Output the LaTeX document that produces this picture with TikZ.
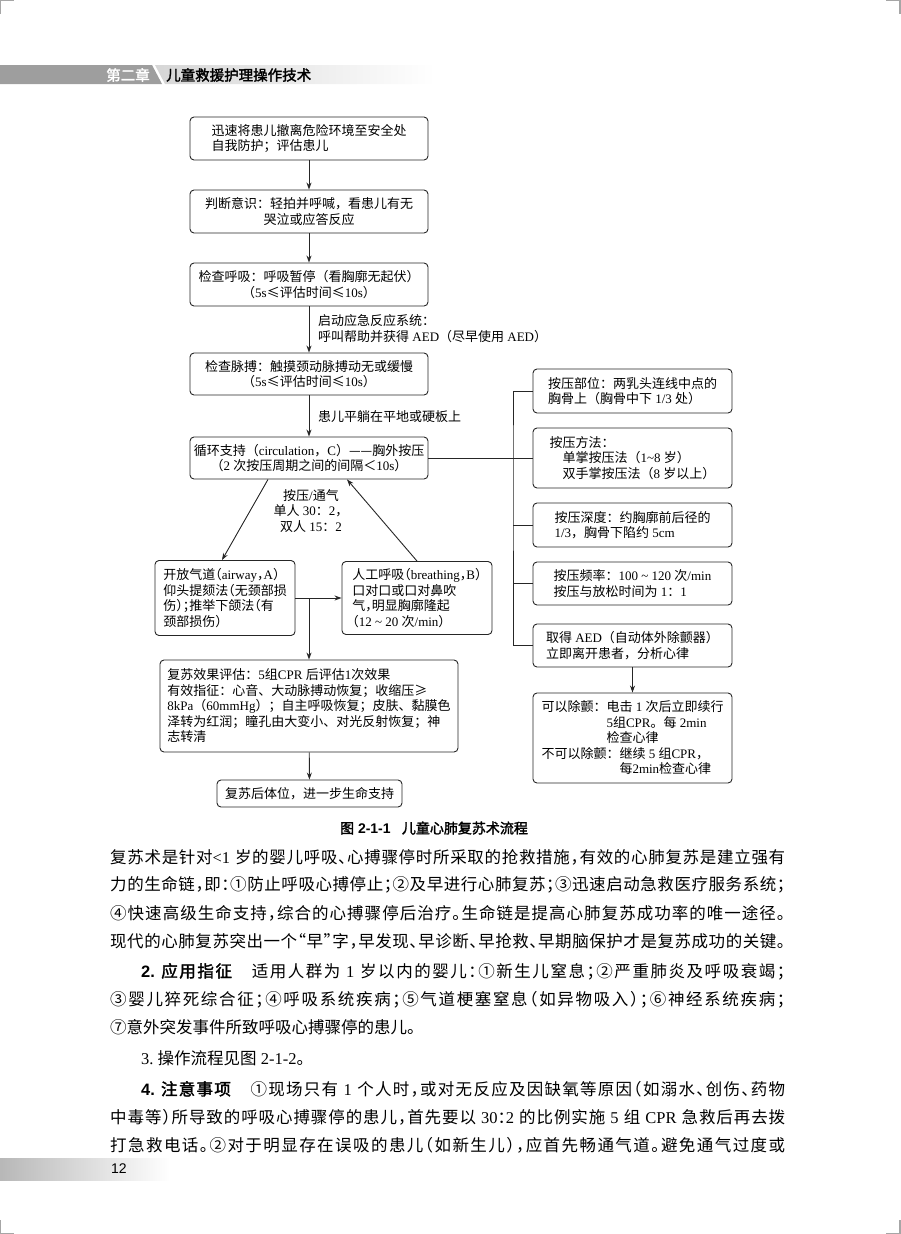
\documentclass[tikz,border=0pt]{standalone}
\usepackage{fontspec}
\usetikzlibrary{arrows.meta}
\setmainfont{Liberation Serif}
\setsansfont{Liberation Sans}
\newfontfamily\cjkfont{Noto Sans CJK SC}[AutoFakeBold=2]
\newfontfamily\cjkhalt{Noto Sans CJK SC}[AutoFakeBold=2,RawFeature=+halt]
\newcommand\latfont{\rmfamily}

% Chinese characters switch to the CJK font by themselves
\newcount\clscnt
\newcommand\setcls[3]{\clscnt=#1\relax
  \loop\XeTeXcharclass\clscnt=#3\relax
  \ifnum\clscnt<#2\advance\clscnt by 1\relax\repeat}
\setcls{"0021}{"00FF}{0}
\setcls{"2014}{"2014}{7}
\setcls{"201C}{"201D}{7}
\setcls{"2264}{"2265}{7}
\setcls{"2460}{"24FF}{7}
\setcls{"2E80}{"9FFF}{7}
\setcls{"FF00}{"FFEF}{7}
\XeTeXinterchartoks 0 7 = {\cjkfont}
\XeTeXinterchartoks 4095 7 = {\cjkfont}
\XeTeXinterchartoks 7 0 = {\latfont}
\XeTeXinterchartoks 7 4095 = {\latfont}
\XeTeXinterchartoks 7 7 = {\hskip 0pt plus 2pt minus 0.6pt}
\XeTeXinterchartokenstate=1

\begin{document}
\begin{tikzpicture}[x=1pt,y=-1pt,
  every node/.style={font=\fontsize{13}{15.5}\selectfont},
  box/.style={draw=black!85,line width=0.9pt,rounded corners=4pt,inner sep=0pt,align=center},
  leftbox/.style={box,align=left},
  narrowbox/.style={leftbox,font=\fontsize{13}{15.5}\selectfont\let\cjkfont\cjkhalt},
  boxsize/.style 2 args={minimum width=#1pt,minimum height=#2pt},
  note/.style={anchor=west,align=left,inner sep=0pt},
  link/.style={draw=black!85,line width=0.9pt},
  arr/.style={link,-{Stealth[length=7pt,width=5pt]}},
  bodyline/.style={anchor=west,inner sep=0pt,font=\fontsize{16.5}{20}\selectfont\let\cjkfont\cjkhalt},
  crop/.style={draw=black!35,line width=1.2pt}]
  \useasboundingbox (0,0) rectangle (900,1234);

  % Crop marks
  \draw[crop] (0,14) -- (0,0) -- (14,0);
  \draw[crop] (886,0) -- (900,0) -- (900,14);
  \draw[crop] (0,1220) -- (0,1234) -- (14,1234);
  \draw[crop] (886,1234) -- (900,1234) -- (900,1220);

  % Running head
  \fill[black!38] (0,65) -- (152,65) -- (162,84) -- (0,84) -- cycle;
  \shade[left color=black!16,right color=white] (155,65) -- (435,65) -- (435,84) -- (165,84) -- cycle;
  \node[font=\fontsize{14.5}{15}\selectfont\bfseries,text=white,inner sep=0pt] (chap) at (128,75) {第二章};
  \node[font=\fontsize{14.5}{15}\selectfont\bfseries,anchor=west,inner sep=0pt] (title) at (166,75) {儿童救援护理操作技术};

  % Main column
  \node[leftbox,boxsize={238}{43}] (start) at (309,138.5)
    {迅速将患儿撤离危险环境至安全处\\自我防护；评估患儿};
  \node[box,boxsize={238}{43}] (judge) at (309,211.5)
    {判断意识：轻拍并呼喊，看患儿有无\\哭泣或应答反应};
  \node[box,boxsize={238}{43}] (breath) at (309,284.5)
    {检查呼吸：呼吸暂停（看胸廓无起伏）\\（5s≤评估时间≤10s）};
  \node[box,boxsize={238}{42}] (pulse) at (309,374)
    {检查脉搏：触摸颈动脉搏动无或缓慢\\（5s≤评估时间≤10s）};
  \node[box,boxsize={238}{42}] (circ) at (309,458)
    {循环支持（circulation，C）——胸外按压\\（2 次按压周期之间的间隔＜10s）};

  \draw[arr] (start) -- (judge);
  \draw[arr] (judge) -- (breath);
  \draw[arr] (breath) -- (pulse);
  \draw[arr] (pulse) -- (circ);
  \node[note] (call) at (318,328.5) {启动应急反应系统：\\呼叫帮助并获得 AED（尽早使用 AED）};
  \node[note] (lay) at (318,417) {患儿平躺在平地或硬板上};

  % Compression branch on the right
  \node[leftbox,boxsize={199}{44}] (site) at (632.5,391)
    {按压部位：两乳头连线中点的\\胸骨上（胸骨中下 1/3 处）};
  \node[leftbox,boxsize={199}{60}] (method) at (632.5,458)
    {按压方法：\\\hspace*{1em}单掌按压法（1\textasciitilde{}8 岁）\\\hspace*{1em}双手掌按压法（8 岁以上）};
  \node[leftbox,boxsize={199}{44}] (depth) at (632.5,525)
    {按压深度：约胸廓前后径的\\1/3，胸骨下陷约 5cm};
  \node[leftbox,boxsize={199}{43}] (rate) at (632.5,583.5)
    {按压频率：100 \textasciitilde{} 120 次/min\\按压与放松时间为 1：1};
  \node[leftbox,boxsize={199}{43}] (aed) at (632.5,645.5)
    {取得 AED（自动体外除颤器）\\立即离开患者，分析心律};
  \node[leftbox,boxsize={199}{90}] (shock) at (632.5,738)
    {可以除颤：电击 1 次后立即续行\\\phantom{可以除颤：}5组CPR。每 2min\\\phantom{可以除颤：}检查心律\\
     不可以除颤：继续 5 组CPR，\\\phantom{不可以除颤：}每2min检查心律};

  \coordinate (trunk) at (513,458);
  \draw[link] (circ.east) -- (method.west);
  \draw[link] (site.west) -| (trunk) |- (aed.west);
  \foreach \r in {depth,rate}
    \draw[link] (\r.west) -- (\r.west -| trunk);
  \draw[arr] (aed) -- (shock);

  % Airway and breathing cycle
  \node[narrowbox,boxsize={140}{75}] (airway) at (225,598)
    {开放气道（airway，A）\\仰头提颏法（无颈部损\\伤）；推举下颌法（有\\颈部损伤）};
  \node[narrowbox,boxsize={150}{73}] (rescue) at (417,598)
    {人工呼吸（breathing，B）\\口对口或口对鼻吹\\气，明显胸廓隆起\\（12 \textasciitilde{} 20 次/min）};
  \node[align=center,inner sep=0pt] (ratio) at (311,511) {按压/通气\\单人 30：2，\\双人 15：2};
  \draw[arr] ([xshift=-41pt]circ.south) -- ([xshift=-3pt]airway.north);
  \draw[arr] (rescue.north) -- ([xshift=38pt]circ.south);
  \draw[arr] (airway.east) -- (rescue.west);

  % Assessment and aftercare
  \node[leftbox,boxsize={298}{92}] (eval) at (309,706)
    {复苏效果评估：5组CPR 后评估1次效果\\有效指征：心音、大动脉搏动恢复；收缩压≥\\
     8kPa（60mmHg）；自主呼吸恢复；皮肤、黏膜色\\泽转为红润；瞳孔由大变小、对光反射恢复；神\\志转清};
  \node[box,boxsize={185}{27}] (post) at (309.5,793.5) {复苏后体位，进一步生命支持};
  \coordinate (join) at (airway.east -| eval.north);
  \draw[arr] (join) -- (eval.north);
  \draw[arr] (eval) -- (post);

  \node[font=\fontsize{14}{16}\selectfont\sffamily\bfseries\let\latfont\sffamily] (cap) at (434,828)
    {图 2-1-1\hspace{0.8em}儿童心肺复苏术流程};

  % Body text, one node per printed line
  \node[bodyline] (p1) at (110,857) {\hbox to 675pt{复苏术是针对<1 岁的婴儿呼吸、心搏骤停时所采取的抢救措施，有效的心肺复苏是建立强有}};
  \node[bodyline] (p2) at (110,885) {\hbox to 675pt{力的生命链，即：①防止呼吸心搏停止；②及早进行心肺复苏；③迅速启动急救医疗服务系统；}};
  \node[bodyline] (p3) at (110,913) {\hbox to 675pt{④快速高级生命支持，综合的心搏骤停后治疗。生命链是提高心肺复苏成功率的唯一途径。}};
  \node[bodyline] (p4) at (110,941) {\hbox to 675pt{现代的心肺复苏突出一个“早”字，早发现、早诊断、早抢救、早期脑保护才是复苏成功的关键。}};
  \node[bodyline] (p5) at (141,971.5) {\hbox to 644pt{{\sffamily\bfseries\let\latfont\sffamily 2.\ 应用指征}\hspace{1.2em}适用人群为 1 岁以内的婴儿：①新生儿窒息；②严重肺炎及呼吸衰竭；}};
  \node[bodyline] (p6) at (110,999.5) {\hbox to 675pt{③婴儿猝死综合征；④呼吸系统疾病；⑤气道梗塞窒息（如异物吸入）；⑥神经系统疾病；}};
  \node[bodyline] (p7) at (110,1027.5) {⑦意外突发事件所致呼吸心搏骤停的患儿。};
  \node[bodyline] (p8) at (141,1058.5) {3.\ 操作流程见图 2-1-2。};
  \node[bodyline] (p9) at (141,1089) {\hbox to 644pt{{\sffamily\bfseries\let\latfont\sffamily 4.\ 注意事项}\hspace{1.2em}①现场只有 1 个人时，或对无反应及因缺氧等原因（如溺水、创伤、药物}};
  \node[bodyline] (p10) at (110,1117) {\hbox to 675pt{中毒等）所导致的呼吸心搏骤停的患儿，首先要以 30：2 的比例实施 5 组 CPR 急救后再去拨}};
  \node[bodyline] (p11) at (110,1145) {\hbox to 675pt{打急救电话。②对于明显存在误吸的患儿（如新生儿），应首先畅通气道。避免通气过度或}};

  % Folio
  \shade[left color=black!28,right color=white] (0,1158) rectangle (170,1180);
  \node[font=\sffamily\fontsize{14}{16}\selectfont,inner sep=0pt] (folio) at (119,1169) {12};
\end{tikzpicture}
\end{document}
